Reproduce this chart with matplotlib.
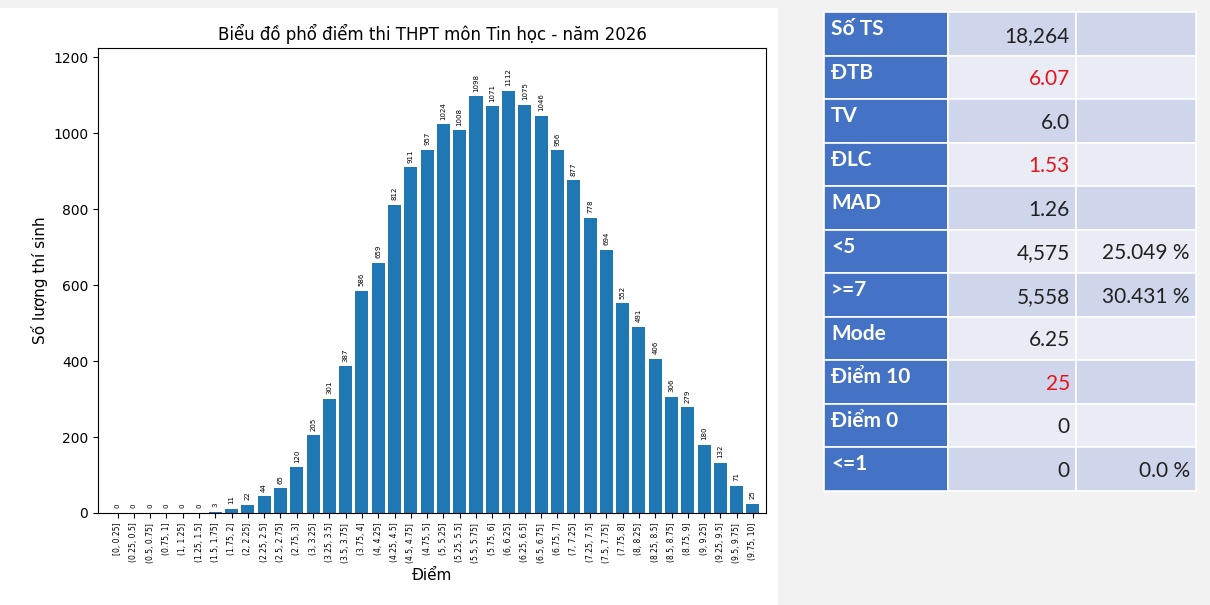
import matplotlib
matplotlib.use("Agg")
import matplotlib.pyplot as plt
from matplotlib.patches import Rectangle

edges = [i * 0.25 for i in range(41)]
def fmt(v):
    return ("%g" % v)
labels = ["[0, 0.25]"] + ["(%s, %s]" % (fmt(edges[i]), fmt(edges[i + 1])) for i in range(1, 40)]
counts = [0, 0, 0, 0, 0, 0, 3, 11, 22, 44, 65, 120, 205, 301, 387, 586, 659, 812, 911, 957,
          1024, 1008, 1098, 1071, 1112, 1075, 1046, 956, 877, 778, 694, 552, 491, 406, 306,
          279, 180, 132, 71, 25]

stat_names = ["Số TS", "ĐTB", "TV", "ĐLC", "MAD", "<5", ">=7", "Mode", "Điểm 10", "Điểm 0", "<=1"]
stat_vals = ["18,264", "6.07", "6.0", "1.53", "1.26", "4,575", "5,558", "6.25", "25", "0", "0"]
stat_pct = ["", "", "", "", "", "25.049 %", "30.431 %", "", "", "", "0.0 %"]
red_rows = [1, 3, 8]

W, H = 1210, 605
fig = plt.figure(figsize=(12.1, 6.05), dpi=100)
fig.patch.set_facecolor("#f2f2f2")

# white panel behind chart
bg = fig.add_axes([0, 0, 778 / W, 1 - 8 / H])
bg.set_axis_off()
bg.add_patch(Rectangle((0, 0), 1, 1, color="white", transform=bg.transAxes))

ax = fig.add_axes([98 / W, 1 - 513 / H, (766 - 98) / W, (513 - 48) / H])
x = range(len(counts))
bars = ax.bar(x, counts, color="#1f77b4")
for xi, c in zip(x, counts):
    ax.text(xi, c + 12, str(c), rotation=90, ha="center", va="bottom", fontsize=5)
ax.set_xticks(list(x))
ax.set_xticklabels(labels, rotation=90, fontsize=5.5)
ax.set_xlim(-1.2, len(counts) - 0.2)
ax.set_ylim(0, 1225)
ax.set_yticks(range(0, 1201, 200))
ax.set_title("Biểu đồ phổ điểm thi THPT môn Tin học - năm 2026", fontsize=12)
ax.set_xlabel("Điểm", fontsize=11)
ax.set_ylabel("Số lượng thí sinh", fontsize=11)

# table
tab = fig.add_axes([0, 0, 1, 1])
tab.set_axis_off()
tab.set_xlim(0, W)
tab.set_ylim(H, 0)
cols = [824, 948, 1076, 1196]
top, rh = 12, 43.5
for i in range(len(stat_names)):
    y0 = top + i * rh
    light = "#cfd5ea" if i % 2 == 0 else "#e9ebf5"
    tab.add_patch(Rectangle((cols[0], y0), cols[1] - cols[0], rh, facecolor="#4472c4", edgecolor="white", lw=1.2))
    for j in (1, 2):
        tab.add_patch(Rectangle((cols[j], y0), cols[j + 1] - cols[j], rh, facecolor=light, edgecolor="white", lw=1.2))
    tab.text(cols[0] + 7, y0 + rh * 0.4, stat_names[i], color="white", fontsize=15,
             fontweight="bold", va="center", family="Lato")
    tab.text(cols[2] - 6, y0 + rh * 0.55, stat_vals[i], fontsize=15, ha="right", va="center",
             color="#e8141c" if i in red_rows else "#222222", family="Lato")
    if stat_pct[i]:
        tab.text(cols[3] - 6, y0 + rh * 0.55, stat_pct[i], fontsize=15, ha="right", va="center",
                 color="#222222", family="Lato")

fig.savefig("out.png", dpi=100, facecolor=fig.get_facecolor())
